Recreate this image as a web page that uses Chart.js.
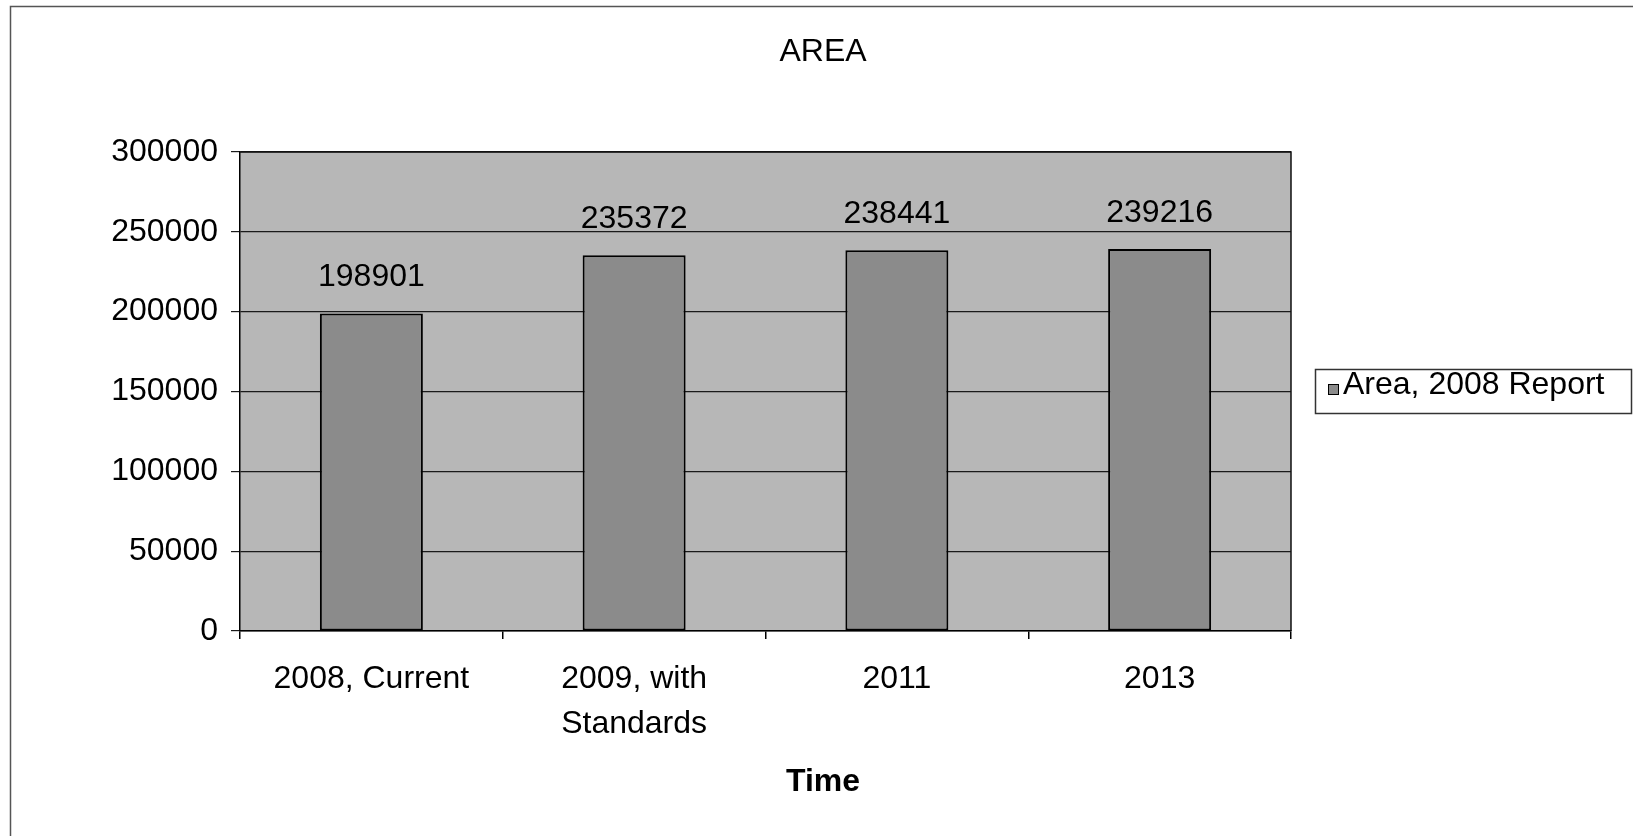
<!DOCTYPE html>
<html>
<head>
<meta charset="utf-8">
<script src="https://cdn.jsdelivr.net/npm/chart.js@4/dist/chart.umd.min.js"></script>
<style>
  html, body { margin: 0; padding: 0; background: #ffffff; }
  #wrap { width: 1633px; height: 836px; position: relative; }
</style>
</head>
<body>
<div id="wrap"><canvas id="c" width="1633" height="836"></canvas></div>
<script>
// Chart text and values
const chartTitle = 'AREA';
const axisTitle = 'Time';
const seriesName = 'Area, 2008 Report';
const categories = [['2008, Current'], ['2009, with', 'Standards'], ['2011'], ['2013']];
const areaValues = [198901, 235372, 238441, 239216];
const yTicks = [0, 50000, 100000, 150000, 200000, 250000, 300000];

const FONT = '"Liberation Sans", Arial, Helvetica, sans-serif';
const PLOT_BG = '#b7b7b7';
const BAR_FILL = '#8b8b8b';

// Outer frame, plot background and plot border
const framePlugin = {
  id: 'frame',
  beforeDraw(chart) {
    const ctx = chart.ctx;
    const a = chart.chartArea;
    ctx.save();
    ctx.fillStyle = '#ffffff';
    ctx.fillRect(0, 0, chart.width, chart.height);
    ctx.strokeStyle = '#555555';
    ctx.lineWidth = 1.5;
    ctx.beginPath();
    ctx.moveTo(10.5, chart.height);
    ctx.lineTo(10.5, 6.5);
    ctx.lineTo(chart.width, 6.5);
    ctx.stroke();
    ctx.fillStyle = PLOT_BG;
    ctx.fillRect(a.left, a.top, a.right - a.left, a.bottom - a.top);
    ctx.restore();
  },
  afterDraw(chart) {
    const ctx = chart.ctx;
    const a = chart.chartArea;
    ctx.save();
    ctx.strokeStyle = '#111111';
    ctx.lineWidth = 1.5;
    ctx.beginPath();
    ctx.moveTo(a.left, a.top);
    ctx.lineTo(a.right, a.top);
    ctx.lineTo(a.right, a.bottom);
    ctx.stroke();
    ctx.restore();
  }
};

// Value labels above each bar
const valueLabels = {
  id: 'valueLabels',
  afterDatasetsDraw(chart) {
    const ctx = chart.ctx;
    const meta = chart.getDatasetMeta(0);
    const data = chart.data.datasets[0].data;
    ctx.save();
    ctx.font = '32px ' + FONT;
    ctx.fillStyle = '#000000';
    ctx.textAlign = 'center';
    ctx.textBaseline = 'middle';
    meta.data.forEach((bar, i) => {
      ctx.fillText(String(data[i]), bar.x, bar.y - 36);
    });
    ctx.restore();
  }
};

// Boxed legend to the right of the plot
const boxedLegend = {
  id: 'boxedLegend',
  afterDraw(chart) {
    const ctx = chart.ctx;
    const a = chart.chartArea;
    const ds = chart.data.datasets[0];
    const left = a.right + 24;
    const top = Math.round((a.top + a.bottom) / 2) - 23;
    const w = 316, h = 44;
    ctx.save();
    ctx.fillStyle = '#ffffff';
    ctx.fillRect(left, top, w, h);
    ctx.strokeStyle = '#333333';
    ctx.lineWidth = 1.5;
    ctx.strokeRect(left + 0.5, top + 0.5, w, h);
    ctx.fillStyle = ds.backgroundColor;
    ctx.fillRect(left + 13, top + 15, 10, 10);
    ctx.strokeStyle = '#000000';
    ctx.lineWidth = 1;
    ctx.strokeRect(left + 13.5, top + 15.5, 10, 10);
    ctx.font = '32px ' + FONT;
    ctx.fillStyle = '#000000';
    ctx.textAlign = 'left';
    ctx.textBaseline = 'alphabetic';
    ctx.fillText(ds.label, left + 28, top + 25);
    ctx.restore();
  }
};

new Chart(document.getElementById('c'), {
  type: 'bar',
  data: {
    labels: categories,
    datasets: [{
      label: seriesName,
      data: areaValues,
      backgroundColor: BAR_FILL,
      borderColor: '#000000',
      borderWidth: 2,
      borderSkipped: false,
      barPercentage: 0.392,
      categoryPercentage: 1.0,
      xAxisID: 'x',
      yAxisID: 'y'
    }]
  },
  options: {
    responsive: false,
    animation: false,
    devicePixelRatio: 1,
    layout: { padding: { left: 13, right: 0, top: 0, bottom: 0 } },
    plugins: {
      legend: { display: false },
      tooltip: { enabled: false },
      title: {
        display: true,
        text: chartTitle,
        color: '#000000',
        font: { family: FONT, size: 32, weight: 'normal', lineHeight: 1.2 },
        padding: { top: 33, bottom: 80.6 }
      },
      subtitle: {
        display: true,
        text: axisTitle,
        position: 'bottom',
        color: '#000000',
        font: { family: FONT, size: 32, weight: 'bold', lineHeight: 1.2 },
        padding: { top: 0, bottom: 35 }
      }
    },
    scales: {
      x: {
        type: 'category',
        offset: true,
        grid: {
          display: true,
          offset: true,
          drawOnChartArea: false,
          drawTicks: true,
          tickLength: 8,
          color: '#000000',
          lineWidth: 1.5
        },
        border: { display: true, color: '#000000', width: 1.5 },
        ticks: {
          color: '#000000',
          font: { family: FONT, size: 32, lineHeight: 1.42 },
          padding: 17,
          maxRotation: 0,
          autoSkip: false
        },
        afterFit(scale) { scale.height = 131.6; }
      },
      y: {
        type: 'linear',
        position: 'left',
        min: 0,
        max: 300000,
        afterBuildTicks(scale) { scale.ticks = yTicks.map(v => ({ value: v })); },
        ticks: {
          color: '#000000',
          font: { family: FONT, size: 32 },
          padding: 13,
          callback: v => String(v)
        },
        grid: {
          color: '#1a1a1a',
          lineWidth: 1.2,
          drawTicks: true,
          tickLength: 9
        },
        border: { display: true, color: '#000000', width: 1.5 },
        afterFit(scale) { scale.width = 227; }
      },
      legendSpace: {
        type: 'linear',
        axis: 'y',
        position: 'right',
        display: true,
        grid: { display: false, drawTicks: false },
        border: { display: false },
        ticks: { display: false },
        afterFit(scale) { scale.width = 342; }
      }
    }
  },
  plugins: [framePlugin, valueLabels, boxedLegend]
});
</script>
</body>
</html>
